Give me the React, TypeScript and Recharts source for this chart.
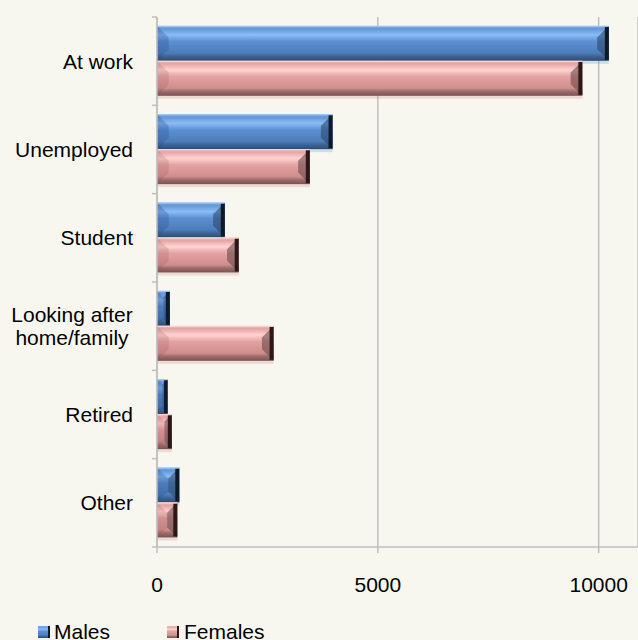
import React from 'react';
import { BarChart, Bar, XAxis, YAxis, CartesianGrid } from 'recharts';

const categories = ['At work', 'Unemployed', 'Student', 'Looking after\nhome/family', 'Retired', 'Other'];
const males = [10230, 3975, 1535, 290, 240, 505];
const females = [9630, 3460, 1850, 2640, 335, 460];
const xTicks = [0, 5000, 10000];

const data = categories.map((name, i) => ({ name, males: males[i], females: females[i] }));

const FONT = '"Liberation Sans", Arial, sans-serif';
const AXIS = '#bfbfbf';

type Pal = {
  id: string;
  stops: [number, string][];
  left: string;
  right: string;
  edge: string;
  top: string;
  shadow: string;
};

const MALE_PAL: Pal = {
  id: 'gm',
  stops: [
    [0, '#8dbcf3'],
    [0.08, '#6396d8'],
    [0.26, '#8abcf5'],
    [0.45, '#5c8fd3'],
    [0.78, '#4d7cb8'],
    [0.88, '#3d6190'],
    [1, '#2f4c70'],
  ],
  left: 'rgba(40,80,140,0.3)',
  right: '#2c4a6e',
  edge: '#0c1a2a',
  top: '#9cc6f5',
  shadow: 'rgba(90,140,210,0.25)',
};

const FEMALE_PAL: Pal = {
  id: 'gf',
  stops: [
    [0, '#f3c2c2'],
    [0.08, '#e3a4a3'],
    [0.26, '#ffd3d2'],
    [0.45, '#e2a3a2'],
    [0.78, '#cf8e8d'],
    [0.88, '#9a6a69'],
    [1, '#7a5251'],
  ],
  left: 'rgba(150,80,80,0.2)',
  right: '#6e4a49',
  edge: '#2c1818',
  top: '#fbd6d6',
  shadow: 'rgba(220,150,150,0.3)',
};

function BevelBar(props: any) {
  const { x, y, width, height, pal, index } = props;
  if (!width || width <= 0) return null;
  const w = width;
  const h = height;
  const b = Math.min(13, w / 2, h / 3);
  const e = Math.min(4, w / 3);
  const gid = `${pal.id}-${index}`;
  return (
    <g>
      <defs>
        <linearGradient id={gid} x1="0" y1="0" x2="0" y2="1">
          {pal.stops.map(([o, c]: [number, string], i: number) => (
            <stop key={i} offset={o} stopColor={c} />
          ))}
        </linearGradient>
      </defs>
      <rect x={x} y={y + h} width={w} height={3} fill={pal.shadow} />
      <rect x={x} y={y} width={w} height={h} fill={`url(#${gid})`} />
      <polygon
        points={`${x},${y} ${x + b},${y + b} ${x + b},${y + h - b} ${x},${y + h}`}
        fill={pal.left}
      />
      <polygon
        points={`${x + w},${y} ${x + w - b},${y + b} ${x + w - b},${y + h - b} ${x + w},${y + h}`}
        fill={pal.right}
        opacity={0.6}
      />
      <rect x={x + w - e} y={y + 1} width={e} height={h - 2} fill={pal.edge} />
      <rect x={x} y={y} width={w} height={1} fill={pal.top} />
    </g>
  );
}

function CategoryTick(props: any) {
  const { x, y, payload, index, visibleTicksCount } = props;
  const half = payload && payload.offset ? payload.offset : 530 / 12;
  const ax = x + 24;
  const lines = String(payload.value).split('\n');
  const last = index === visibleTicksCount - 1;
  return (
    <g>
      <line x1={ax - 5} x2={ax} y1={y - half} y2={y - half} stroke={AXIS} strokeWidth={1.5} />
      {last && <line x1={ax - 5} x2={ax} y1={y + half} y2={y + half} stroke={AXIS} strokeWidth={1.5} />}
      {lines.length === 1 ? (
        <text x={x} y={y} dy="0.35em" textAnchor="end" fontFamily={FONT} fontSize={21} fill="#000">
          {lines[0]}
        </text>
      ) : (
        <text x={x - 61} y={y - 11.5 * (lines.length - 1)} textAnchor="middle" fontFamily={FONT} fontSize={21} fill="#000">
          {lines.map((l, i) => (
            <tspan key={i} x={x - 61} dy={i === 0 ? '0.35em' : 23}>
              {l}
            </tspan>
          ))}
        </text>
      )}
    </g>
  );
}

function LegendSwatch({ pal }: { pal: Pal }) {
  const stops = pal.stops.map(([o, c]) => `${c} ${o * 100}%`).join(', ');
  return (
    <span
      style={{
        display: 'inline-block',
        width: 12,
        height: 12,
        background: `linear-gradient(180deg, ${stops})`,
        borderRight: `2px solid ${pal.edge}`,
        boxSizing: 'border-box',
      }}
    />
  );
}

export default function App() {
  return (
    <div style={{ position: 'absolute', left: 0, top: 0, width: 638, height: 640, background: '#f7f7ef', overflow: 'hidden' }}>
      <BarChart
        width={638}
        height={640}
        data={data}
        layout="vertical"
        margin={{ top: 17, right: 0, left: 0, bottom: 43 }}
        barCategoryGap="10%"
        barGap={0}
      >
        <CartesianGrid horizontal={false} vertical stroke={AXIS} strokeWidth={1.5} />
        <XAxis
          type="number"
          domain={[0, 10890]}
          ticks={xTicks}
          allowDataOverflow
          height={50}
          axisLine={{ stroke: AXIS, strokeWidth: 1.5 }}
          tickLine={{ stroke: AXIS, strokeWidth: 1.5 }}
          tickSize={6}
          tickMargin={24}
          tick={{ fontFamily: FONT, fontSize: 21, fill: '#000' }}
        />
        <YAxis
          type="category"
          dataKey="name"
          width={157}
          axisLine={{ stroke: AXIS, strokeWidth: 1.5 }}
          tickLine={false}
          tickSize={5}
          tickMargin={19}
          interval={0}
          tick={<CategoryTick />}
        />
        <Bar dataKey="males" name="Males" isAnimationActive={false} shape={(p: any) => <BevelBar {...p} pal={MALE_PAL} />} />
        <Bar dataKey="females" name="Females" isAnimationActive={false} shape={(p: any) => <BevelBar {...p} pal={FEMALE_PAL} />} />
      </BarChart>
      <div
        style={{
          position: 'absolute',
          left: 38,
          top: 621,
          display: 'flex',
          alignItems: 'center',
          fontFamily: FONT,
          fontSize: 21,
          lineHeight: '21px',
          color: '#000',
        }}
      >
        <LegendSwatch pal={MALE_PAL} />
        <span style={{ marginLeft: 4, width: 113 }}>Males</span>
        <LegendSwatch pal={FEMALE_PAL} />
        <span style={{ marginLeft: 5 }}>Females</span>
      </div>
    </div>
  );
}
